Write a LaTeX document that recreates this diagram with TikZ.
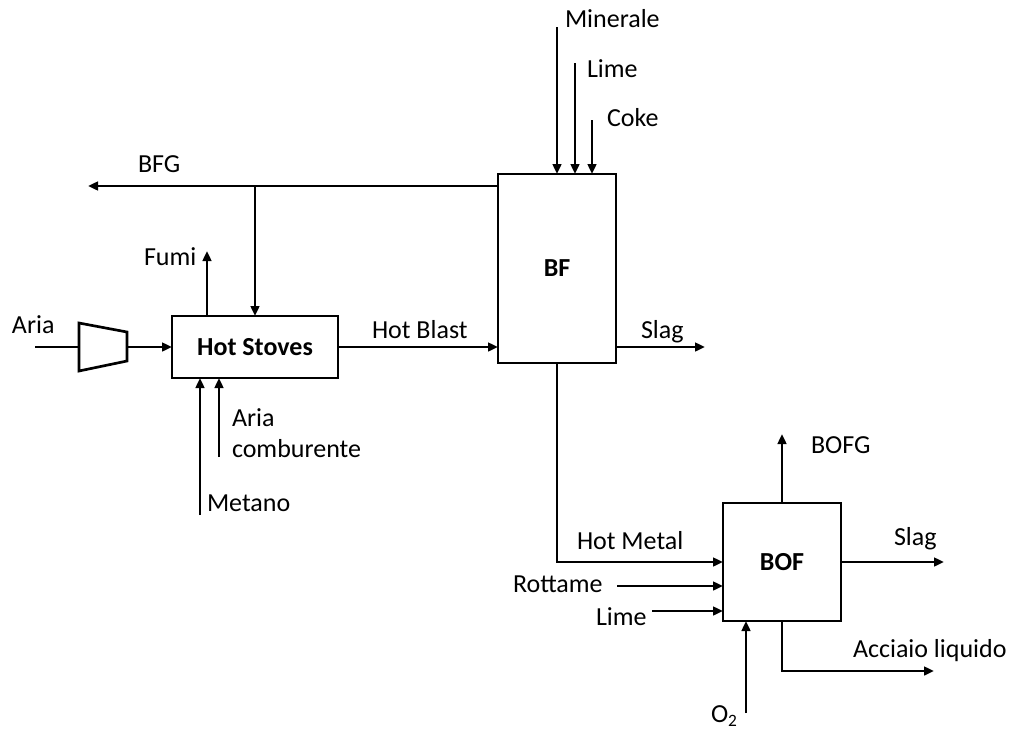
\documentclass[tikz,border=0pt]{standalone}
\usepackage{fontspec}
\setmainfont{Carlito}
\usetikzlibrary{arrows.meta}
\newcommand\lblfont{\fontsize{19.5}{23}\selectfont}
\begin{document}
\begin{tikzpicture}[x=0.75pt,y=-0.75pt,
  line width=1.8pt,
  arr/.style={-{Triangle[length=7.5pt,width=6.5pt]}},
  box/.style={draw,line width=2.2pt,inner sep=0pt,outer sep=0pt,font=\bfseries\lblfont},
  lab/.style={anchor=base west,inner sep=0pt,outer sep=0pt,font=\lblfont}]
\useasboundingbox (0,0) rectangle (1011,729);

% process units
\node[box,minimum width=166*0.75pt,minimum height=62*0.75pt] (hs) at (255,347) {Hot Stoves};
\node[box,minimum width=118*0.75pt,minimum height=189*0.75pt] (bf) at (557,268.5) {BF};
\node[box,minimum width=118*0.75pt,minimum height=118*0.75pt] (bof) at (782,562) {BOF};

% compressor
\coordinate (ariain) at (35,347);
\coordinate (cl) at (79,347);
\coordinate (cr) at (127,347);
\draw[line join=miter,line width=2pt] (79,323) -- (127,332) -- (127,361) -- (79,371) -- cycle;
\draw (ariain) -- (cl);
\draw[arr] (cr) -- (hs.west);

% free ends
\coordinate (fumi) at (207,251);
\coordinate (bfg) at (88,186);
\coordinate (bfgj) at (255,186);
\coordinate (slagA) at (705,347);
\coordinate (min) at (557,27);
\coordinate (limeA) at (575,63);
\coordinate (coke) at (592,120);
\coordinate (met) at (200,515);
\coordinate (comb) at (219,457);
\coordinate (rot) at (617,586);
\coordinate (limeB) at (652,611);
\coordinate (oxy) at (746,713);
\coordinate (bofg) at (782,434);
\coordinate (slagB) at (944,562);
\coordinate (acc) at (934,671);

% connectors
\draw[arr] (fumi |- hs.north) -- (fumi);
\draw[arr] (bfg -| bf.west) -- (bfg);
\draw[arr] (bfgj) -- (hs.north);
\draw[arr] (hs.east) -- (hs.east -| bf.west);
\draw[arr] (slagA -| bf.east) -- (slagA);
\draw[arr] (min) -- (min |- bf.north);
\draw[arr] (limeA) -- (limeA |- bf.north);
\draw[arr] (coke) -- (coke |- bf.north);
\draw[arr] (met) -- (met |- hs.south);
\draw[arr] (comb) -- (comb |- hs.south);
\draw[arr] (bf.south) -- (bf.south |- bof.west) -- (bof.west);
\draw[arr] (rot) -- (rot -| bof.west);
\draw[arr] (limeB) -- (limeB -| bof.west);
\draw[arr] (oxy) -- (oxy |- bof.south);
\draw[arr] (bof.north) -- (bofg);
\draw[arr] (bof.east) -- (slagB);
\draw[arr] (bof.south) -- (bof.south |- acc) -- (acc);

% labels
\node[lab] (tAria) at (12,333) {Aria};
\node[lab] (tBFG) at (138,172) {BFG};
\node[lab] (tFumi) at (144,265) {Fumi};
\node[lab] (tAriaC) at (232,426) {Aria};
\node[lab] (tComb) at (232,457) {comburente};
\node[lab] (tMet) at (207,511) {Metano};
\node[lab] (tHB) at (372,338) {Hot Blast};
\node[lab] (tSlagA) at (641,338) {Slag};
\node[lab] (tMin) at (565,27) {Minerale};
\node[lab] (tLimeA) at (587,77) {Lime};
\node[lab] (tCoke) at (607,126) {Coke};
\node[lab] (tHM) at (577,549) {Hot Metal};
\node[lab] (tRot) at (513,592) {Rottame};
\node[lab] (tLimeB) at (596,625) {Lime};
\node[lab] (tO2) at (711,722) {O\raisebox{-0.35ex}{\fontsize{13}{15}\selectfont 2}};
\node[lab] (tBOFG) at (811,453) {BOFG};
\node[lab] (tSlagB) at (894,545) {Slag};
\node[lab] (tAcc) at (853,657) {Acciaio liquido};
\end{tikzpicture}
\end{document}
